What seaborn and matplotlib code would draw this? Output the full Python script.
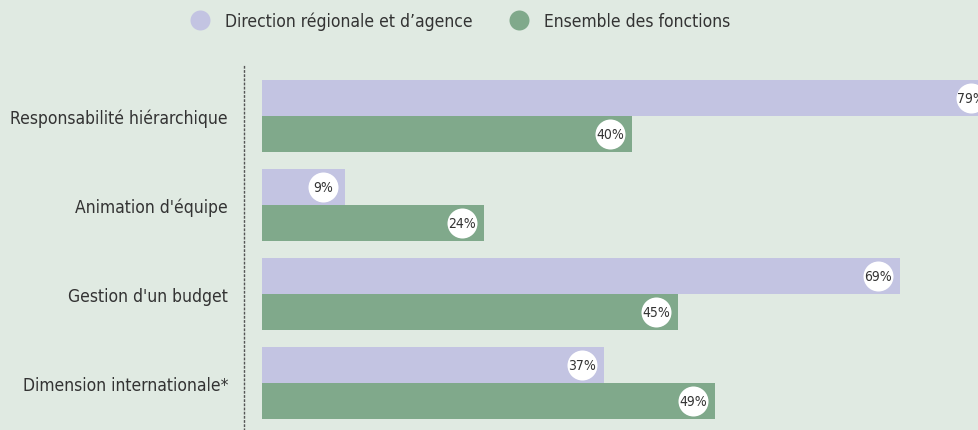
import matplotlib
matplotlib.use("Agg")
import matplotlib.pyplot as plt
from matplotlib.lines import Line2D
import seaborn as sns
import pandas as pd

categories = ["Responsabilité hiérarchique", "Animation d'équipe",
              "Gestion d'un budget", "Dimension internationale*"]
series_names = ["Direction régionale et d’agence", "Ensemble des fonctions"]
direction_vals = [79, 9, 69, 37]
ensemble_vals = [40, 24, 45, 49]
colors = ["#C3C4E2", "#80A98B"]
bg = "#E0EAE2"
txt = "#333333"

df = pd.DataFrame({
    "cat": categories * 2,
    "serie": [series_names[0]] * 4 + [series_names[1]] * 4,
    "val": direction_vals + ensemble_vals,
})

sns.set_theme(style="white")
plt.rcParams["font.family"] = ["DejaVu Sans"]
plt.rcParams["font.stretch"] = "condensed"

W, H = 979, 431
fig = plt.figure(figsize=(W / 100, H / 100), dpi=100, facecolor=bg)
ax = fig.add_axes([244 / W, 0, (W - 244) / W, (431 - 65) / H])
ax.set_facecolor(bg)

sns.barplot(data=df, y="cat", x="val", hue="serie", order=categories,
            hue_order=series_names, palette=colors, orient="h",
            width=0.8, saturation=1, ax=ax, legend=False, linewidth=0)

px = 9.25
ax.set_xlim(-18 / px, (W - 244 - 18) / px)
ax.set_ylim(3.528, -0.584)
ax.set_xlabel("")
ax.set_ylabel("")
ax.set_xticks([])
ax.tick_params(axis="y", length=0, pad=11.5, labelsize=12.5, labelcolor=txt)
for s in ["top", "right", "bottom"]:
    ax.spines[s].set_visible(False)
ax.spines["left"].set_linestyle((0, (1, 2)))
ax.spines["left"].set_color("#555555")
ax.spines["left"].set_linewidth(1)

off = -22 * 0.72
for cont in ax.containers:
    for bar in cont:
        v = bar.get_width()
        yc = bar.get_y() + bar.get_height() / 2
        ax.annotate("", xy=(v, yc), xytext=(off, 0), textcoords="offset points",
                    annotation_clip=False,
                    arrowprops=None)
        ax.plot([v], [yc], marker="o", markersize=30 * 0.72, color="white",
                markeredgewidth=0, clip_on=False,
                transform=ax.transData + matplotlib.transforms.ScaledTranslation(
                    -22 / 100, 0, fig.dpi_scale_trans))
        ax.annotate(f"{v:.0f}%", xy=(v, yc), xytext=(off, 0),
                    textcoords="offset points", ha="center", va="center",
                    fontsize=10, color=txt, annotation_clip=False)

handles = [Line2D([], [], marker="o", linestyle="", markersize=20 * 0.72,
                  markerfacecolor=c, markeredgecolor="none") for c in colors]
fig.legend(handles, series_names, loc="center", bbox_to_anchor=(461 / W, 1 - 21.5 / H),
           ncol=2, frameon=False, fontsize=12.5, labelcolor=txt,
           handletextpad=0.94, columnspacing=2.14, handlelength=1.0)

fig.savefig("out.png", dpi=100, facecolor=bg)
